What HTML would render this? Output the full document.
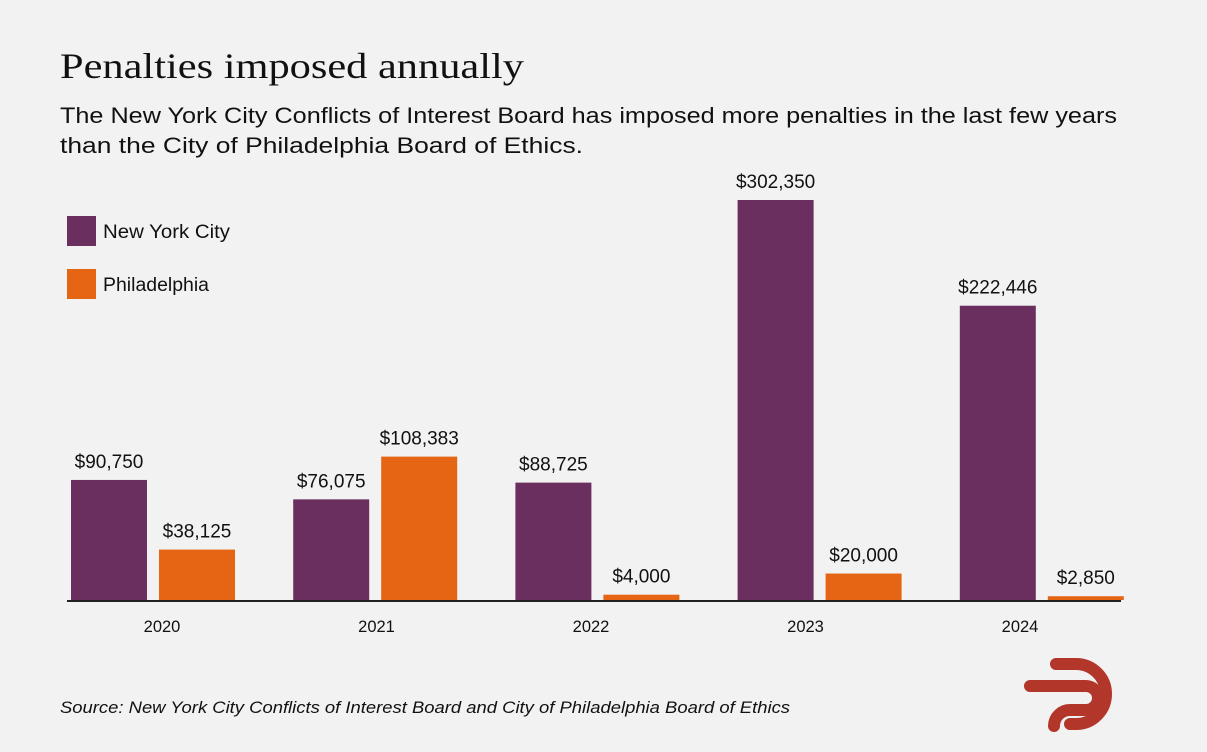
<!DOCTYPE html>
<html><head><meta charset="utf-8"><style>
body{margin:0;background:#f2f2f2;}
svg{display:block}
</style></head><body>
<svg width="1207" height="752">
<rect width="1207" height="752" fill="#f2f2f2"/>
<text x="60" y="78" font-family="Liberation Serif, serif" font-size="36" fill="#111" textLength="464" lengthAdjust="spacingAndGlyphs">Penalties imposed annually</text>
<text x="60" y="123" font-family="Liberation Sans, sans-serif" font-size="22" fill="#111" textLength="1057" lengthAdjust="spacingAndGlyphs">The New York City Conflicts of Interest Board has imposed more penalties in the last few years</text>
<text x="60" y="153" font-family="Liberation Sans, sans-serif" font-size="22" fill="#111" textLength="523" lengthAdjust="spacingAndGlyphs">than the City of Philadelphia Board of Ethics.</text>
<rect x="67" y="216" width="29" height="30" fill="#6b2f5f"/>
<text x="103" y="238" font-family="Liberation Sans, sans-serif" font-size="19" fill="#111" textLength="127" lengthAdjust="spacingAndGlyphs">New York City</text>
<rect x="67" y="269" width="29" height="30" fill="#e66514"/>
<text x="103" y="291" font-family="Liberation Sans, sans-serif" font-size="19" fill="#111" textLength="106" lengthAdjust="spacingAndGlyphs">Philadelphia</text>
<g id="bars"></g>
<line x1="67" y1="601" x2="1121" y2="601" stroke="#222" stroke-width="2"/>
<text x="60" y="713" font-family="Liberation Sans, sans-serif" font-size="16.5" font-style="italic" fill="#111" textLength="730" lengthAdjust="spacingAndGlyphs">Source: New York City Conflicts of Interest Board and City of Philadelphia Board of Ethics</text>
<g fill="none" stroke="#b3362b" stroke-width="12" stroke-linecap="round">
<path d="M1056 664 H1076 A30 30 0 0 1 1076 724 H1070"/>
<path d="M1030 686 H1086 A12 12 0 0 1 1086 710 H1070 A16 16 0 0 0 1054 726"/>
</g>
</svg>
<script>
const years=["2020","2021","2022","2023","2024"];
const nyc=[90750,76075,88725,302350,222446];
const phl=[38125,108383,4000,20000,2850];
const g=document.getElementById('bars');
const ns="http://www.w3.org/2000/svg";
const base=600, k=400/302350;
const y=v=>base-v*k;
const fmt=v=>"$"+v.toLocaleString("en-US");
function mk(tag,attrs,txt){const e=document.createElementNS(ns,tag);for(const a in attrs)e.setAttribute(a,attrs[a]);if(txt)e.textContent=txt;g.appendChild(e);return e;}
years.forEach((yr,i)=>{
  const x0=71+i*222.2;
  [[nyc[i],"#6b2f5f",0,"nyc"],[phl[i],"#e66514",88,"philadelphia"]].forEach(([v,c,off,n])=>{
    const r=mk('rect',{x:x0+off,y:y(v),width:76,height:base-y(v),fill:c});
    
    
    const t=mk('text',{x:x0+off+38,y:y(v)-12,'text-anchor':'middle','font-family':'Liberation Sans, sans-serif','font-size':19,fill:'#111'},fmt(v));
    
    
  });
  const l=mk('text',{x:162+i*214.5,y:632,'text-anchor':'middle','font-family':'Liberation Sans, sans-serif','font-size':16.5,fill:'#111'},yr);
  
  
});
</script>
</body></html>
